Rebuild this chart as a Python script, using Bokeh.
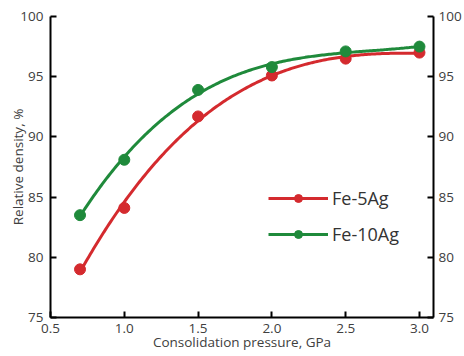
import numpy as np
from bokeh.plotting import figure
from bokeh.models import LinearAxis, FixedTicker, Legend, LegendItem, Range1d
from bokeh.embed import file_html
from bokeh.resources import INLINE

# Consolidation pressure (GPa) and relative density (%)
pressure = [0.7, 1.0, 1.5, 2.0, 2.5, 3.0]
fe5ag = [79.0, 84.1, 91.7, 95.1, 96.5, 97.0]
fe10ag = [83.5, 88.1, 93.9, 95.8, 97.1, 97.5]

x_ticks = [0.5, 1.0, 1.5, 2.0, 2.5, 3.0]
y_ticks = [75, 80, 85, 90, 95, 100]

RED = "#d42a2e"
GREEN = "#1f8a3b"
FONT = "Open Sans"
TICK_COLOR = "#404040"


def trend(xs, ys, deg=3, n=200):
    """Polynomial trend line over the measured pressure range."""
    coef = np.polyfit(xs, ys, deg)
    xf = np.linspace(min(xs), max(xs), n)
    return xf, np.polyval(coef, xf)


p = figure(width=464, height=356, output_backend="svg", toolbar_location=None,
           x_range=Range1d(0.5, 3.095), y_range=Range1d(75, 100),
           min_border_left=50, min_border_right=30, min_border_top=16,
           min_border_bottom=39)
p.outline_line_color = None
p.xgrid.visible = False
p.ygrid.visible = False

items = []
for name, ys, color in [("Fe-5Ag", fe5ag, RED), ("Fe-10Ag", fe10ag, GREEN)]:
    xf, yf = trend(pressure, ys)
    curve = p.line(xf, yf, line_color=color, line_width=3)
    sc = p.scatter(pressure, ys, size=11, fill_color=color, line_color=color)
    items.append(LegendItem(label=name, renderers=[curve, sc]))

legend = Legend(items=items, location=(218, 71), glyph_width=60,
                glyph_height=20, label_height=20, spacing=12, padding=0,
                margin=0, label_standoff=4, border_line_color=None,
                background_fill_alpha=0, label_text_font=FONT,
                label_text_font_size="18px", label_text_color="#333333")
p.add_layout(legend, "center")


def style_axis(ax):
    ax.axis_line_color = "black"
    ax.axis_line_width = 2
    ax.major_tick_line_color = "black"
    ax.major_tick_line_width = 2
    ax.major_tick_in = 6
    ax.major_tick_out = 0
    ax.minor_tick_line_color = None
    ax.major_label_text_font = FONT
    ax.major_label_text_font_size = "13.5px"
    ax.major_label_text_color = TICK_COLOR
    ax.axis_label_text_font = FONT
    ax.axis_label_text_font_size = "13.5px"
    ax.axis_label_text_font_style = "normal"
    ax.axis_label_text_color = TICK_COLOR


p.xaxis.ticker = FixedTicker(ticks=x_ticks)
p.xaxis.major_label_overrides = {t: f"{t:.1f}" for t in x_ticks}
p.xaxis.axis_label = "Consolidation pressure, GPa"
p.xaxis.major_label_standoff = 6
p.xaxis.axis_label_standoff = -3
style_axis(p.xaxis[0])

p.yaxis.ticker = FixedTicker(ticks=y_ticks)
p.yaxis.axis_label = "Relative density, %"
p.yaxis.major_label_standoff = 7
p.yaxis.axis_label_standoff = -10
style_axis(p.yaxis[0])

right = LinearAxis(ticker=FixedTicker(ticks=y_ticks))
right.major_label_standoff = 5
style_axis(right)
p.add_layout(right, "right")

open("out.html", "w").write(file_html(p, INLINE))
